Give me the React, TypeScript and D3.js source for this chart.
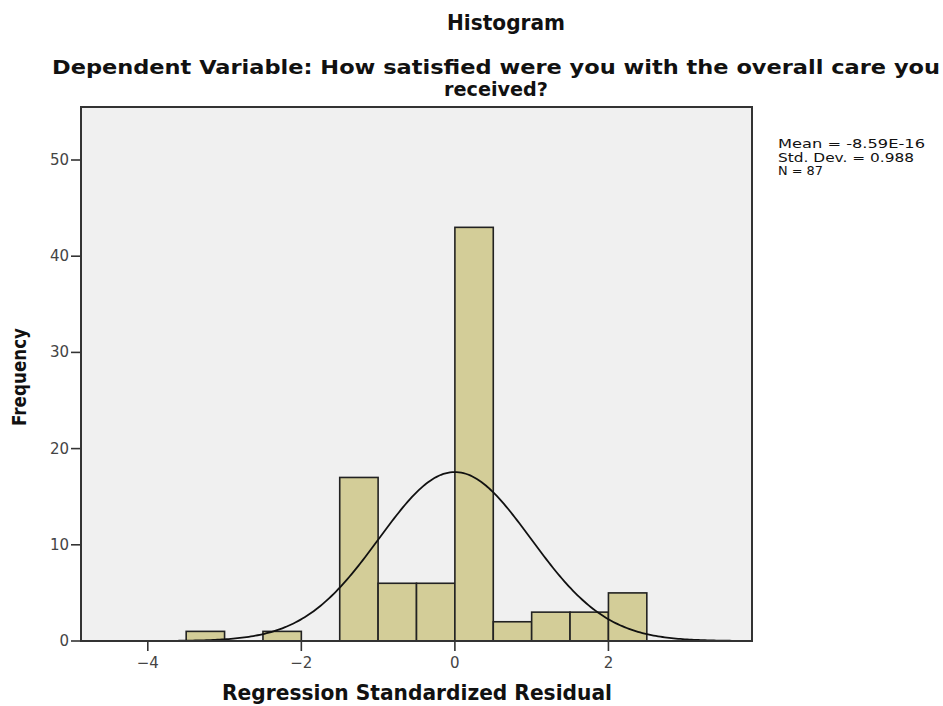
import React from "react";
import * as d3 from "d3";

const binStarts = [-3.5, -2.5, -1.5, -1.0, -0.5, 0.0, 0.5, 1.0, 1.5, 2.0];
const binCounts = [1, 1, 17, 6, 6, 43, 2, 3, 3, 5];
const binWidth = 0.5;
const xTicks = [-4, -2, 0, 2];
const yTicks = [0, 10, 20, 30, 40, 50];
const meanVal = 0;
const sdVal = 0.988;
const nVal = 87;
const statsLines = ["Mean = -8.59E-16", "Std. Dev. = 0.988", "N = 87"];
const statsWidths = [147, 136, 45];

const W = 943;
const H = 706;
const left = 81;
const right = 752;
const top = 107;
const bottom = 641;

export default function App() {
  const x = d3.scaleLinear().domain([-4.87, 3.87]).range([left, right]);
  const y = d3.scaleLinear().domain([0, 50]).range([bottom, 160]);

  const pdf = (v: number) =>
    (1 / (sdVal * Math.sqrt(2 * Math.PI))) * Math.exp(-0.5 * ((v - meanVal) / sdVal) ** 2);
  const curvePts = d3.range(0, 301).map((i) => {
    const v = -4.87 + (i / 300) * (3.87 + 4.87);
    return [v, nVal * binWidth * pdf(v)] as [number, number];
  });
  const line = d3
    .line<[number, number]>()
    .x((d) => x(d[0]))
    .y((d) => y(d[1]))
    .curve(d3.curveLinear);

  const font = "'DejaVu Sans', Verdana, sans-serif";

  return (
    <svg width={W} height={H} style={{ position: "absolute", left: 0, top: 0, background: "#fff" }}>
      <rect x={0} y={0} width={W} height={H} fill="#fff" />
      <text x={506} y={30} textAnchor="middle" fontFamily={font} fontWeight="bold" fontSize={22}
        textLength={118} lengthAdjust="spacingAndGlyphs" fill="#111">Histogram</text>
      <text x={496} y={74} textAnchor="middle" fontFamily={font} fontWeight="bold" fontSize={20}
        textLength={888} lengthAdjust="spacingAndGlyphs" fill="#111">
        Dependent Variable: How satisfied were you with the overall care you
      </text>
      <text x={496} y={96} textAnchor="middle" fontFamily={font} fontWeight="bold" fontSize={20}
        textLength={104} lengthAdjust="spacingAndGlyphs" fill="#111">received?</text>

      <rect x={left} y={top} width={right - left} height={bottom - top} fill="#f0f0f0" />

      {binStarts.map((s, i) => (
        <rect key={i} x={x(s)} y={y(binCounts[i])} width={x(s + binWidth) - x(s)}
          height={y(0) - y(binCounts[i])} fill="#d3cd98" stroke="#222" strokeWidth={1.6} />
      ))}

      <path d={line(curvePts) || ""} fill="none" stroke="#111" strokeWidth={1.8} />

      <rect x={left} y={top} width={right - left} height={bottom - top} fill="none" stroke="#333" strokeWidth={2} />

      {yTicks.map((t) => (
        <g key={t}>
          <line x1={left - 10} x2={left} y1={y(t)} y2={y(t)} stroke="#333" strokeWidth={1.6} />
          <text x={left - 12} y={y(t) + 5} textAnchor="end" fontFamily={font} fontSize={15} fill="#444">{t}</text>
        </g>
      ))}
      {xTicks.map((t) => (
        <g key={t}>
          <line x1={x(t)} x2={x(t)} y1={bottom} y2={bottom + 10} stroke="#333" strokeWidth={1.6} />
          <text x={x(t)} y={bottom + 27} textAnchor="middle" fontFamily={font} fontSize={15} fill="#444">
            {t < 0 ? "\u2212" + Math.abs(t) : String(t)}
          </text>
        </g>
      ))}

      <text x={417} y={700} textAnchor="middle" fontFamily={font} fontWeight="bold" fontSize={21}
        textLength={390} lengthAdjust="spacingAndGlyphs" fill="#111">Regression Standardized Residual</text>
      <text transform="translate(26,377) rotate(-90)" textAnchor="middle" fontFamily={font} fontWeight="bold"
        fontSize={20} textLength={98} lengthAdjust="spacingAndGlyphs" fill="#111">Frequency</text>

      {statsLines.map((s, i) => (
        <text key={i} x={778} y={148 + i * 13.5} fontFamily={font} fontSize={11.5}
          textLength={statsWidths[i]} lengthAdjust="spacingAndGlyphs" fill="#111">{s}</text>
      ))}
    </svg>
  );
}
